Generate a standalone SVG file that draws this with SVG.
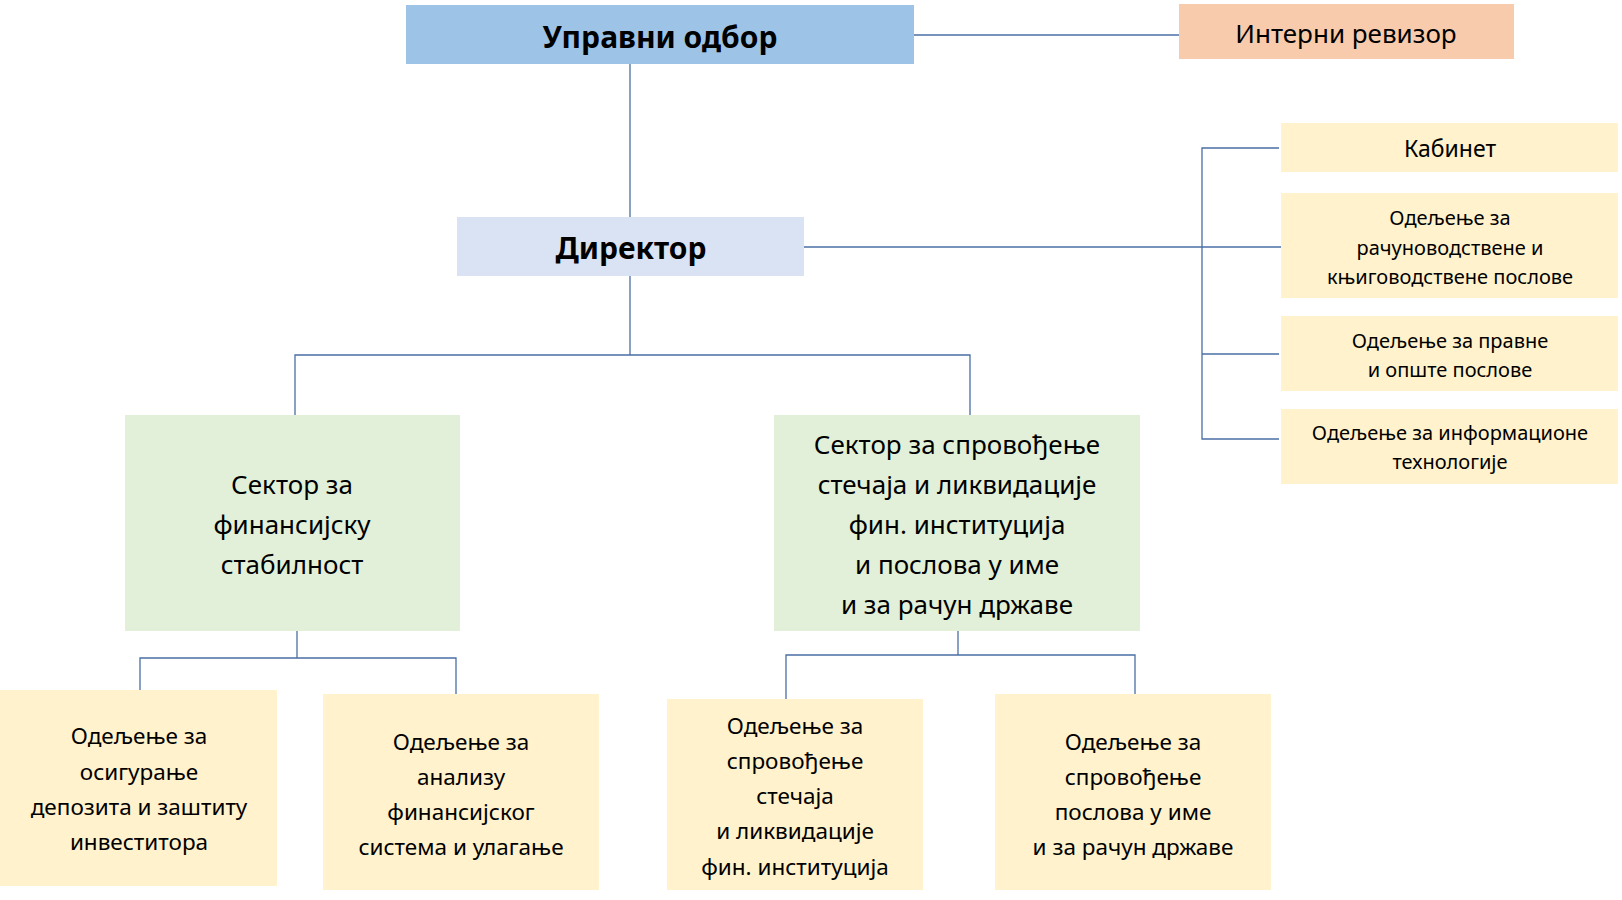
<svg xmlns="http://www.w3.org/2000/svg" width="1622" height="900" viewBox="0 0 1622 900">
<style>
text{font-family:"Noto Sans","DejaVu Sans",sans-serif;fill:#000;text-anchor:middle;dominant-baseline:central}
.b{font-weight:bold;font-size:30px}
.s{font-size:26px}
.m{font-size:22.5px}
.r{font-size:20px}
.y{fill:#FFF2CC}.g{fill:#E2F0D9}
#conn line,#conn polyline{stroke:#4A6FA5;stroke-width:1.3;fill:none}
</style>
<rect width="1622" height="900" fill="#fff"/>
<g id="conn">
<line x1="914" y1="35" x2="1179" y2="35"/>
<line x1="630" y1="64" x2="630" y2="217"/>
<line x1="804" y1="247" x2="1281" y2="247"/>
<polyline points="1279,148 1202,148 1202,439 1279,439"/>
<line x1="1202" y1="354" x2="1279" y2="354"/>
<polyline points="295,415 295,355 970,355 970,415"/>
<line x1="630" y1="276" x2="630" y2="355"/>
<polyline points="140,690 140,658 456,658 456,694"/>
<line x1="297" y1="631" x2="297" y2="658"/>
<polyline points="786,699 786,655 1135,655 1135,694"/>
<line x1="958" y1="631" x2="958" y2="655"/>
</g>
<g id="upravni"><rect x="406" y="5" width="508" height="59" fill="#9DC3E6"/><text class="b" x="660" y="36">Управни одбор</text></g>
<g id="interni"><rect x="1179" y="4" width="335" height="55" fill="#F8CBAD"/><text class="s" x="1346" y="33">Интерни ревизор</text></g>
<g id="direktor"><rect x="457" y="217" width="347" height="59" fill="#DAE3F3"/><text class="b" x="631" y="247">Директор</text></g>
<g id="kabinet"><rect class="y" x="1281" y="123" width="337" height="49"/><text class="s" x="1450" y="148" style="font-size:23px">Кабинет</text></g>
<g id="racun"><rect class="y" x="1281" y="193" width="337" height="105"/><text class="r" x="1450" y="217">Одељење за</text><text class="r" x="1450" y="247">рачуноводствене и</text><text class="r" x="1450" y="276">књиговодствене послове</text></g>
<g id="pravne"><rect class="y" x="1281" y="316" width="337" height="75"/><text class="r" x="1450" y="340">Одељење за правне</text><text class="r" x="1450" y="369">и опште послове</text></g>
<g id="it"><rect class="y" x="1281" y="409" width="337" height="75"/><text class="r" x="1450" y="432">Одељење за информационе</text><text class="r" x="1450" y="461">технологије</text></g>
<g id="sektor1"><rect class="g" x="125" y="415" width="335" height="216"/><text class="s" x="292" y="484">Сектор за</text><text class="s" x="292" y="524">финансијску</text><text class="s" x="292" y="564">стабилност</text></g>
<g id="sektor2"><rect class="g" x="774" y="415" width="366" height="216"/><text class="s" x="957" y="444">Сектор за спровођење</text><text class="s" x="957" y="484">стечаја и ликвидације</text><text class="s" x="957" y="524">фин. институција</text><text class="s" x="957" y="564">и послова у име</text><text class="s" x="957" y="604">и за рачун државе</text></g>
<g id="b1"><rect class="y" x="0" y="690" width="277" height="196"/><text class="m" x="139" y="735">Одељење за</text><text class="m" x="139" y="771">осигурање</text><text class="m" x="139" y="806">депозита и заштиту</text><text class="m" x="139" y="841">инвеститора</text></g>
<g id="b2"><rect class="y" x="323" y="694" width="276" height="196"/><text class="m" x="461" y="741">Одељење за</text><text class="m" x="461" y="776">анализу</text><text class="m" x="461" y="811">финансијског</text><text class="m" x="461" y="846">система и улагање</text></g>
<g id="b3"><rect class="y" x="667" y="699" width="256" height="191"/><text class="m" x="795" y="725">Одељење за</text><text class="m" x="795" y="760">спровођење</text><text class="m" x="795" y="795">стечаја</text><text class="m" x="795" y="830">и ликвидације</text><text class="m" x="795" y="866">фин. институција</text></g>
<g id="b4"><rect class="y" x="995" y="694" width="276" height="196"/><text class="m" x="1133" y="741">Одељење за</text><text class="m" x="1133" y="776">спровођење</text><text class="m" x="1133" y="811">послова у име</text><text class="m" x="1133" y="846">и за рачун државе</text></g>
</svg>
